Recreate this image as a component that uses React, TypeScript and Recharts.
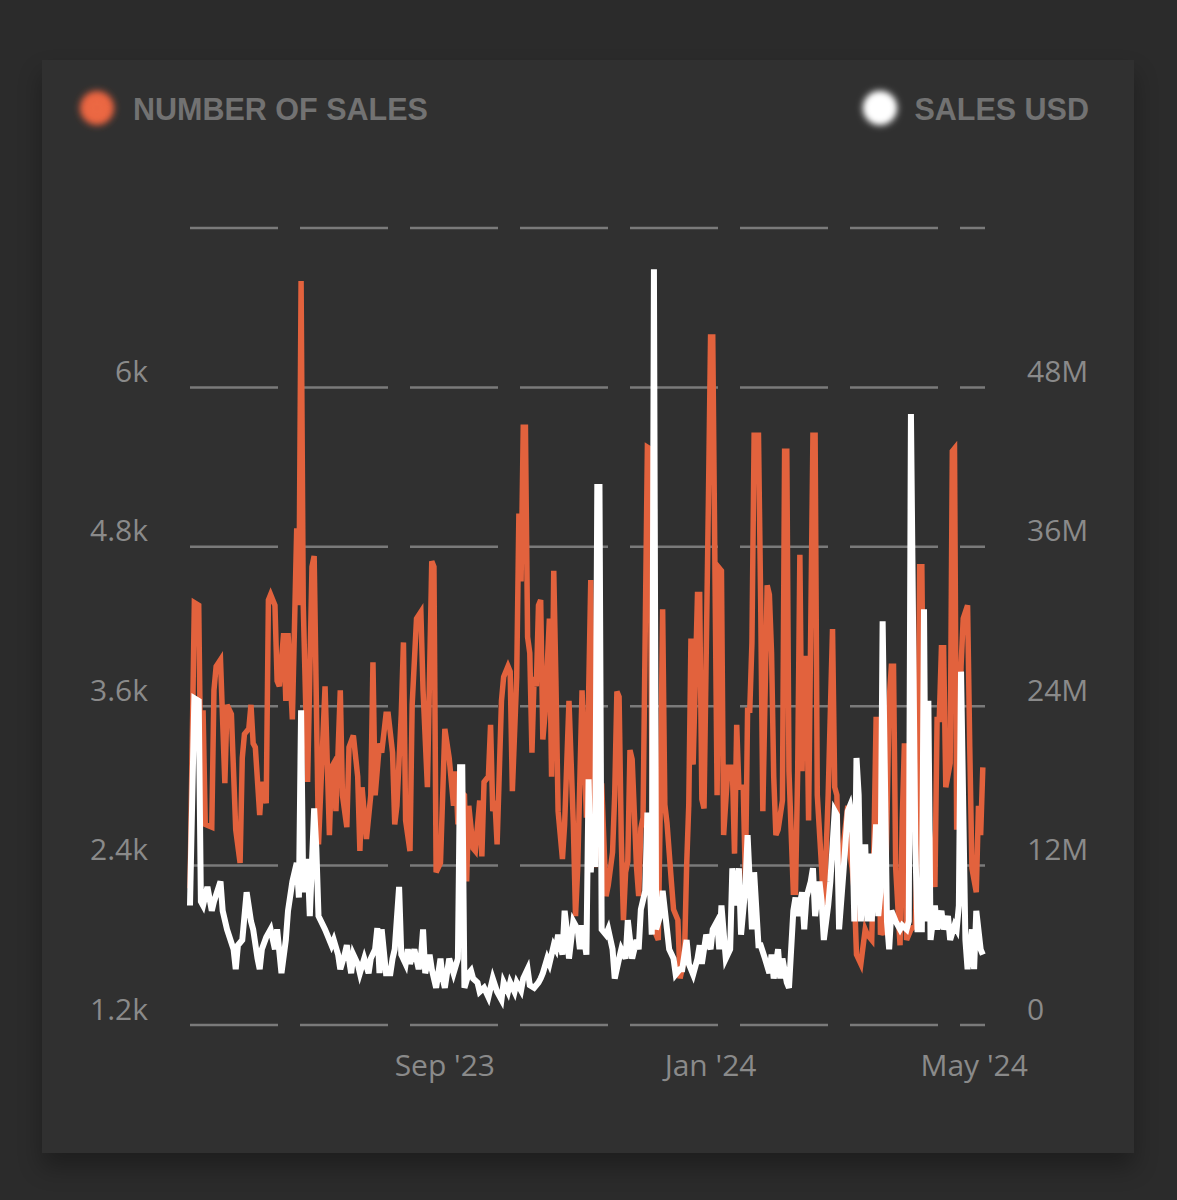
import { LineChart, Line, XAxis, YAxis, CartesianGrid } from "recharts";

// days counted from 7 May 2023 (day 117 = 1 Sep 2023)
const salesDays = [
  0, 2, 4, 5, 6, 7, 10, 11, 12, 14, 16, 17, 19, 21, 23, 24, 25, 27, 28, 29,
  30, 32, 33, 35, 36, 37, 39, 40, 41, 43, 44, 45, 47, 49, 50, 51, 52, 54, 56, 57,
  59, 62, 64, 65, 66, 67, 69, 70, 72, 73, 75, 77, 78, 79, 81, 83, 84, 85, 87, 88,
  90, 91, 93, 94, 95, 97, 98, 99, 101, 102, 104, 106, 107, 109, 111, 112, 113, 115, 117, 119,
  121, 122, 123, 124, 126, 127, 128, 130, 131, 133, 134, 135, 137, 138, 139, 140, 141, 143, 144, 146,
  147, 148, 150, 151, 152, 153, 154, 155, 156, 157, 158, 159, 160, 161, 162, 163, 165, 166, 167, 168,
  169, 171, 172, 174, 176, 177, 178, 180, 182, 183, 184, 185, 186, 188, 189, 191, 192, 194, 195, 196,
  197, 198, 199, 200, 201, 202, 203, 205, 206, 207, 208, 210, 211, 212, 213, 215, 216, 217, 218, 219,
  221, 222, 224, 225, 227, 228, 229, 230, 231, 233, 234, 235, 236, 238, 239, 240, 242, 243, 244, 245,
  247, 249, 250, 251, 252, 254, 255, 256, 257, 258, 259, 261, 262, 263, 265, 266, 267, 268, 269, 270,
  272, 273, 274, 275, 277, 278, 279, 280, 281, 282, 283, 284, 286, 287, 288, 290, 291, 293, 295, 296,
  297, 298, 300, 302, 303, 304, 305, 306, 308, 310, 311, 313, 314, 315, 316, 317, 318, 319, 321, 322,
  323, 324, 326, 327, 328, 329, 331, 333, 334, 335, 336, 337, 339, 340, 342, 343, 344, 345, 346, 347,
  349, 350, 351, 352, 354, 355, 357, 358, 359, 361, 362, 363, 364,
];
const salesCounts = [
  2230, 4380, 4360, 3030, 3570, 2710, 2690, 3720, 3900, 3950, 3020, 3610, 3540, 2670, 2420, 3210, 3390, 3430, 3610, 3320,
  3290, 2780, 3030, 2870, 4400, 4440, 4360, 3790, 3750, 4150, 3640, 4150, 3500, 4940, 4360, 6800, 4360, 3030, 4650, 4730,
  2560, 3750, 2630, 3140, 3170, 2810, 3720, 2930, 2690, 3290, 3380, 3070, 2510, 2990, 2600, 2930, 3930, 2930, 3320, 3250,
  3540, 3540, 3250, 2710, 2850, 3540, 4080, 2740, 2510, 3610, 4260, 4310, 3720, 2990, 4690, 4650, 2350, 2420, 3430, 3210,
  2850, 3110, 2710, 2960, 2930, 2280, 2850, 2530, 2510, 2890, 2470, 3030, 3070, 3460, 2810, 2890, 2560, 3640, 3820, 3900,
  3860, 2960, 3820, 5050, 4540, 5700, 5700, 4120, 4000, 3250, 3820, 3750, 4360, 4400, 3350, 3540, 4260, 3070, 4620, 3790,
  2810, 2450, 2710, 3640, 2710, 2020, 2380, 3720, 2760, 3670, 4550, 2570, 2390, 2760, 3020, 2170, 2250, 2500, 2940, 3710,
  3670, 2610, 1990, 2350, 2430, 3270, 3200, 2390, 2170, 2680, 2760, 5550, 5540, 3310, 1920, 1840, 2940, 4330, 2860, 2720,
  2280, 2070, 1990, 1550, 1700, 2390, 2860, 4110, 3160, 4440, 4440, 2900, 2830, 5130, 6380, 6380, 2930, 4640, 4620, 2630,
  3140, 3140, 2490, 3460, 2990, 2990, 2280, 3570, 3570, 4080, 5640, 5640, 4400, 2810, 4510, 4440, 4000, 3070, 2630, 2670,
  2890, 5520, 5520, 3110, 2200, 2200, 3110, 4740, 3110, 3960, 3960, 2740, 5640, 5640, 2930, 2380, 2020, 2930, 4180, 2990,
  2930, 2100, 2560, 2850, 2490, 2380, 2200, 1730, 1660, 1920, 1880, 1840, 2560, 3500, 3500, 1880, 1920, 1880, 3640, 3900,
  3900, 2380, 1800, 2740, 3320, 1840, 1920, 1950, 2560, 4650, 4650, 2930, 2740, 2560, 2240, 3500, 3500, 4040, 4040, 2990,
  3170, 5520, 5540, 2670, 3900, 4260, 4360, 3290, 2380, 2200, 2850, 2630, 3140,
];

const usdDays = [
  0, 2, 4, 5, 6, 8, 10, 11, 14, 15, 17, 20, 21, 22, 24, 26, 28, 29, 31, 32,
  33, 35, 37, 39, 40, 42, 44, 45, 47, 49, 50, 51, 52, 54, 55, 57, 58, 59, 62, 63,
  65, 66, 68, 69, 71, 72, 74, 75, 77, 78, 80, 82, 83, 85, 86, 87, 88, 90, 92, 93,
  94, 96, 97, 99, 100, 101, 103, 105, 106, 107, 108, 110, 111, 113, 115, 116, 117, 119, 121, 123,
  124, 125, 126, 128, 129, 130, 132, 133, 135, 137, 138, 139, 141, 143, 144, 146, 147, 149, 150, 152,
  153, 155, 156, 158, 160, 161, 162, 164, 165, 167, 168, 169, 171, 172, 173, 174, 176, 178, 179, 180,
  182, 183, 184, 185, 186, 187, 188, 189, 191, 192, 194, 195, 197, 198, 200, 201, 203, 205, 206, 207,
  209, 210, 212, 213, 214, 216, 217, 219, 220, 222, 223, 225, 226, 228, 229, 231, 233, 234, 235, 237,
  239, 240, 242, 243, 244, 246, 248, 249, 250, 252, 253, 255, 256, 258, 259, 261, 262, 264, 266, 267,
  268, 270, 271, 272, 274, 275, 277, 278, 279, 281, 282, 283, 285, 286, 287, 289, 290, 291, 293, 294,
  296, 297, 298, 300, 302, 303, 304, 305, 306, 307, 308, 310, 311, 312, 313, 315, 316, 317, 318, 320,
  321, 322, 324, 326, 327, 329, 330, 331, 333, 334, 336, 337, 338, 339, 340, 342, 343, 345, 346, 348,
  349, 351, 352, 353, 354, 356, 357, 359, 360, 361, 363, 364,
];
const usdMillions = [
  9.0, 24.6, 24.4, 9.3, 9.0, 10.4, 8.6, 9.3, 10.8, 8.6, 7.2, 5.7, 4.2, 6.0, 6.4, 10.0, 7.8, 7.2, 5.0, 4.2,
  5.7, 6.6, 7.2, 5.7, 7.2, 3.9, 6.4, 8.6, 10.8, 12.2, 9.6, 23.7, 10.0, 12.5, 8.2, 16.3, 13.3, 8.2, 7.2, 6.8,
  6.0, 6.4, 5.3, 4.2, 5.3, 6.0, 3.9, 5.3, 4.6, 3.9, 5.0, 3.9, 5.0, 5.7, 7.3, 3.9, 7.2, 3.9, 3.9, 5.0,
  5.7, 10.4, 5.3, 4.6, 5.7, 4.6, 5.7, 4.2, 5.0, 7.2, 3.9, 5.3, 4.2, 2.8, 5.0, 3.5, 2.8, 5.0, 3.9, 5.0,
  19.4, 19.4, 2.8, 3.9, 4.1, 3.5, 3.2, 2.5, 2.8, 2.1, 2.8, 3.5, 2.5, 1.9, 3.2, 2.5, 3.2, 2.5, 3.2, 2.6,
  3.5, 4.2, 3.0, 2.8, 3.2, 3.5, 3.9, 5.0, 4.6, 6.0, 5.7, 6.8, 5.3, 8.6, 7.2, 5.0, 7.8, 7.2, 5.7, 7.5,
  5.3, 18.5, 11.5, 14.5, 11.9, 40.5, 40.5, 7.2, 6.8, 7.2, 5.7, 3.5, 5.0, 5.7, 5.0, 7.9, 5.0, 6.4, 5.7, 8.7,
  10.1, 16.0, 6.8, 56.9, 7.2, 8.3, 10.1, 7.2, 5.7, 5.0, 3.8, 4.2, 4.2, 6.4, 4.6, 3.8, 5.0, 6.0, 4.6, 6.8,
  5.7, 7.2, 7.8, 5.7, 9.0, 5.0, 5.7, 11.8, 9.0, 11.8, 6.8, 10.4, 14.3, 7.2, 11.5, 6.0, 6.0, 5.0, 3.9, 5.3,
  3.5, 5.7, 3.5, 5.0, 3.2, 2.8, 8.6, 9.6, 8.2, 10.0, 7.2, 9.6, 10.8, 11.8, 8.2, 10.8, 9.3, 6.4, 9.0, 10.8,
  16.1, 15.8, 7.2, 11.5, 16.1, 16.5, 15.4, 7.8, 20.1, 17.3, 7.8, 13.6, 7.8, 12.9, 7.8, 15.1, 8.2, 10.0, 30.4, 7.8,
  5.7, 8.6, 7.8, 7.2, 7.5, 7.2, 7.8, 46.0, 13.6, 7.2, 7.2, 31.3, 7.8, 24.4, 6.4, 9.0, 7.2, 8.6, 7.2, 8.2,
  6.4, 7.5, 7.2, 9.0, 26.6, 6.4, 4.2, 7.2, 4.2, 8.6, 5.7, 5.3,
];

const countTicks = [1200, 2400, 3600, 4800, 6000, 7200];
const countLabels = ["1.2k", "2.4k", "3.6k", "4.8k", "6k", ""];
const usdTicks = [0, 12, 24, 36, 48, 60];
const usdLabels = ["0", "12M", "24M", "36M", "48M", ""];
const dateTicks = [117, 239, 360];
const dateLabels = ["Sep '23", "Jan '24", "May '24"];

const salesData = salesDays.map((day, i) => ({ day, sales: salesCounts[i] }));
const usdData = usdDays.map((day, i) => ({ day, usd: usdMillions[i] }));

const ORANGE = "#e2623d";
const LABEL = "#8a8a8a";
const FONT = "'Open Sans', 'Noto Sans', sans-serif";

function makeYTick(ticks: number[], labels: string[]) {
  return (props: any) => {
    const { x, y, payload, textAnchor } = props;
    const label = labels[ticks.indexOf(payload.value)] ?? "";
    return (
      <text
        x={x}
        y={y - 16}
        dy="0.355em"
        textAnchor={textAnchor}
        fill={LABEL}
        fontSize={30}
        fontFamily={FONT}
      >
        {label}
      </text>
    );
  };
}

function DateTick(props: any) {
  const { x, y, payload } = props;
  const label = dateLabels[dateTicks.indexOf(payload.value)] ?? "";
  return (
    <text x={x} y={y} dy="0.71em" textAnchor="middle" fill={LABEL} fontSize={30} fontFamily={FONT}>
      {label}
    </text>
  );
}

function LegendOverlay() {
  return (
    <svg width={1177} height={200} style={{ position: "absolute", left: 0, top: 0 }}>
      <defs>
        <filter id="soft" x="-50%" y="-50%" width="200%" height="200%">
          <feGaussianBlur stdDeviation="3.5" />
        </filter>
      </defs>
      <circle cx={97} cy={108} r={17} fill="#ea6440" filter="url(#soft)" />
      <circle cx={97} cy={108} r={12} fill="#ec6a45" opacity={0.7} filter="url(#soft)" />
      <text x={133} y={120} fill="#727272" fontSize={30.5} fontWeight="bold" fontFamily="'Liberation Sans', Arial, sans-serif">
        NUMBER OF SALES
      </text>
      <circle cx={880} cy={108} r={17} fill="#ffffff" filter="url(#soft)" />
      <circle cx={880} cy={108} r={12} fill="#ffffff" filter="url(#soft)" />
      <text x={1089} y={120} textAnchor="end" fill="#727272" fontSize={30.5} fontWeight="bold" fontFamily="'Liberation Sans', Arial, sans-serif">
        SALES USD
      </text>
    </svg>
  );
}

export default function App() {
  return (
    <div style={{ position: "absolute", left: 0, top: 0, width: 1177, height: 1200, background: "#2b2b2b", overflow: "hidden" }}>
      <div
        style={{
          position: "absolute",
          left: 42,
          top: 60,
          width: 1092,
          height: 1093,
          background: "#303030",
          boxShadow: "0 14px 22px rgba(0,0,0,0.3)",
        }}
      />
      <div style={{ position: "absolute", left: 0, top: 0 }}>
        <LineChart width={1177} height={1200} margin={{ top: 228, right: 92, bottom: 115, left: 90 }}>
          <CartesianGrid
            yAxisId="left"
            vertical={false}
            stroke="#7a7a7a"
            strokeWidth={2.5}
            strokeDasharray="88 22"
          />
          <XAxis
            dataKey="day"
            type="number"
            domain={[0, 365]}
            ticks={dateTicks}
            axisLine={false}
            tickLine={false}
            tickSize={6}
            tickMargin={24}
            height={60}
            tick={<DateTick />}
            allowDuplicatedCategory={false}
          />
          <YAxis
            yAxisId="left"
            orientation="left"
            domain={[1200, 7200]}
            ticks={countTicks}
            axisLine={false}
            tickLine={false}
            tickSize={6}
            tickMargin={36}
            width={100}
            tick={makeYTick(countTicks, countLabels)}
          />
          <YAxis
            yAxisId="right"
            orientation="right"
            domain={[0, 60]}
            ticks={usdTicks}
            axisLine={false}
            tickLine={false}
            tickSize={6}
            tickMargin={36}
            width={100}
            tick={makeYTick(usdTicks, usdLabels)}
          />
          <Line
            yAxisId="left"
            data={salesData}
            dataKey="sales"
            type="linear"
            stroke={ORANGE}
            strokeWidth={5.5}
            dot={false}
            activeDot={false}
            isAnimationActive={false}
          />
          <Line
            yAxisId="right"
            data={usdData}
            dataKey="usd"
            type="linear"
            stroke="#ffffff"
            strokeWidth={6}
            dot={false}
            activeDot={false}
            isAnimationActive={false}
          />
        </LineChart>
      </div>
      <LegendOverlay />
    </div>
  );
}
